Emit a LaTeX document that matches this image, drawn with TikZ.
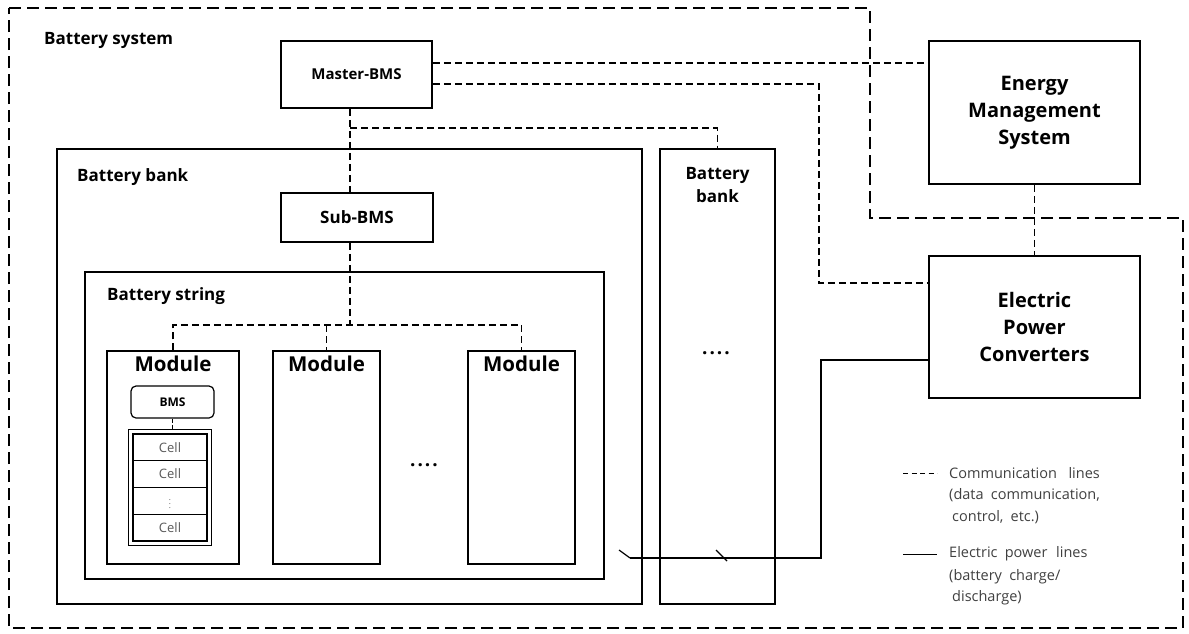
\documentclass[tikz,border=0pt]{standalone}
\usepackage{fontspec}
\setmainfont{Open Sans}
\usetikzlibrary{fit}
\begin{document}
\begin{tikzpicture}[x=1pt,y=-1pt,
  box/.style={draw, line width=1.5pt, inner sep=0pt},
  comm/.style={line width=1.3pt, dash pattern=on 7pt off 4pt},
  outerline/.style={line width=1.8pt, dash pattern=on 12pt off 6pt},
  power/.style={line width=1.5pt},
  lbl/.style={font=\fontsize{17}{22}\selectfont\bfseries, inner sep=0pt},
  biglbl/.style={font=\fontsize{20}{27}\selectfont\bfseries, align=center},
  celltxt/.style={draw, line width=1.2pt, minimum width=74pt, minimum height=26.75pt, inner sep=0pt, font=\fontsize{13}{14}\selectfont, text=black!65},
  legtxt/.style={font=\fontsize{14.5}{22}\selectfont, text=black!75, align=left, inner sep=0pt}
]
\useasboundingbox (0,0) rectangle (1189,633);
\fill[white] (0,0) rectangle (1189,633);

% outer battery system boundary
\draw[outerline] (9,8) -- (870,8) -- (870,218) -- (1183,218) -- (1183,628) -- (9,628) -- cycle;
\node[lbl, anchor=west] (syslbl) at (44,40) {Battery system};

% Master BMS, EMS, EPC
\node[box, minimum width=151pt, minimum height=67pt, font=\fontsize{15}{17}\selectfont\bfseries] (mbms) at (356.5,74.5) {Master-BMS};
\node[box, minimum width=211pt, minimum height=143pt, biglbl] (ems) at (1034.5,112.5) {Energy\\Management\\System};
\node[box, minimum width=211pt, minimum height=142pt, biglbl] (epc) at (1034.5,327) {Electric\\Power\\Converters};

% battery bank 1
\node[box, minimum width=585pt, minimum height=455pt] (bank1) at (349.5,376.5) {};
\node[lbl, anchor=west] (bank1lbl) at (77,177) {Battery bank};
\node[box, minimum width=152pt, minimum height=49pt, font=\fontsize{17}{20}\selectfont\bfseries] (sbms) at (357,217.5) {Sub-BMS};

% battery string
\node[box, minimum width=519pt, minimum height=307pt] (string) at (344.5,425.5) {};
\node[lbl, anchor=west] (stringlbl) at (107,296) {Battery string};

% modules
\node[box, minimum width=132pt, minimum height=213pt] (m1) at (173,457.5) {};
\node[box, minimum width=107pt, minimum height=213pt] (m2) at (326.5,457.5) {};
\node[box, minimum width=107pt, minimum height=213pt] (m3) at (521.5,457.5) {};
\foreach \m in {m1,m2,m3}
  \node[lbl, font=\fontsize{20.5}{22}\selectfont\bfseries, anchor=north] (\m lbl) at ([yshift=-5pt]\m.north) {Module};
\node[lbl, font=\fontsize{19}{22}\selectfont\bfseries] (mdots) at (424,465) {.\hspace{2pt}.\hspace{2pt}.\hspace{2pt}.};

% module 1 internals
\node[box, line width=1.2pt, rounded corners=5pt, minimum width=83pt, minimum height=32pt, font=\fontsize{12}{14}\selectfont\bfseries] (bms) at (172.5,402) {BMS};
\node[celltxt] (c1) at (170,447.4) {Cell};
\node[celltxt] (c2) at (170,474.1) {Cell};
\node[celltxt, font=\fontsize{8}{8}\selectfont] (c3) at (170,500.9) {$\vdots$};
\node[celltxt] (c4) at (170,527.6) {Cell};
\node[draw, line width=1.2pt, inner sep=4pt, fit=(c1)(c4)] (cells) {};
\draw[line width=1pt, dash pattern=on 4pt off 2pt] (bms.south) -- (bms.south |- cells.north);

% battery bank 2
\node[box, minimum width=115pt, minimum height=455pt] (bank2) at (717.5,376.5) {};
\node[lbl, align=center, font=\fontsize{17}{23}\selectfont\bfseries] (bank2lbl) at (717.5,185) {Battery\\bank};
\node[lbl, font=\fontsize{19}{22}\selectfont\bfseries] (bdots) at (716,353) {.\hspace{2pt}.\hspace{2pt}.\hspace{2pt}.};

% communication lines
\coordinate (trunk) at (350,0);
\coordinate (br1) at (350,128);
\coordinate (br2) at (350,325);
\coordinate (c1corner) at (819,283);
\draw[comm] ([yshift=11.5pt]mbms.east) -- ([yshift=11.5pt]mbms.east -| ems.west);
\draw[comm] ([yshift=-9.5pt]mbms.east) -| (c1corner) -- (c1corner -| epc.west);
\draw[comm] (mbms.south -| trunk) -- (sbms.north -| trunk);
\draw[comm] (br1) -| (bank2.north);
\draw[comm] (ems.south) -- (epc.north);
\draw[comm] (sbms.south -| trunk) -- (br2);
\draw[comm] (m1.north) |- (br2) -| (m3.north);
\draw[comm] (br2 -| m2.north) -- (m2.north);

% power line
\coordinate (pstart) at (630,558);
\coordinate (pbend) at (821,558);
\draw[power] (pstart) -- (pbend) |- ([yshift=-33pt]epc.west);
\draw[line width=1.2pt] (619,550) -- (pstart);
\draw[line width=1.2pt] (716,550) -- (727,561);

% legend
\coordinate (lc1) at (903,473);
\coordinate (lc2) at (937,473);
\coordinate (lp1) at (903,554);
\coordinate (lp2) at (937,554);
\draw[line width=1pt, dash pattern=on 5pt off 3.5pt] (lc1) -- (lc2);
\draw[line width=1pt] (lp1) -- (lp2);
\node[legtxt, anchor=west] (leg1) at (949,473) {Communication\hspace{0.8em}lines};
\node[legtxt, anchor=west] (leg2) at (949,495) {(data\hspace{0.5em}communication,};
\node[legtxt, anchor=west] (leg3) at (952,517) {control,\hspace{0.5em}etc.)};
\node[legtxt, anchor=west] (leg4) at (949,554) {Electric\hspace{0.5em}power\hspace{0.6em}lines};
\node[legtxt, anchor=west] (leg5) at (949,577) {(battery\hspace{0.5em}charge/};
\node[legtxt, anchor=west] (leg6) at (952,598) {discharge)};
\end{tikzpicture}
\end{document}
